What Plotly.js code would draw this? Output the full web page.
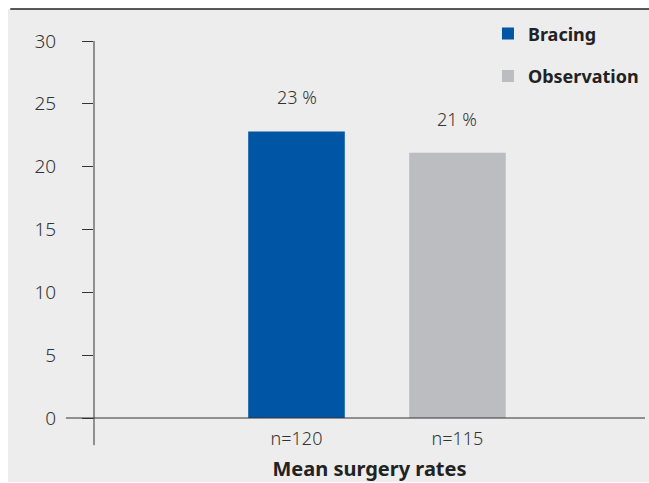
<!DOCTYPE html>
<html><head><meta charset="utf-8">
<script src="https://cdn.plot.ly/plotly-3.0.1.min.js"></script>
<style>html,body{margin:0;padding:0;background:#fff}#c{width:649px;height:483px}</style>
</head><body><div id="c"></div>
<script>
const seriesNames = ["Bracing", "Observation"];
const categories = ["n=120", "n=115"];
const values = [22.8, 21.1];
const valueLabels = ["23 %", "21 %"];
const colors = ["#0055a4", "#bcbdc1"];
const yTicks = [0, 5, 10, 15, 20, 25, 30];

const narrow = "'Noto Sans', 'DejaVu Sans', sans-serif";
const f = (size, color, weight) => ({family: narrow, size: size, color: color, weight: weight || 300, stretch: 'condensed'});

const traces = seriesNames.map((n, i) => ({
  type: 'bar', name: n, x: [categories[i]], y: [values[i]], legendgroup: 'g' + i,
  marker: {color: colors[i]}, width: 0.6, hoverinfo: 'skip'
}));

const annotations = values.map((v, i) => ({
  x: categories[i], y: v, xref: 'x', yref: 'y', text: valueLabels[i],
  showarrow: false, yanchor: 'middle', yshift: 34,
  font: f(18, '#333')
}));

const layout = {
  width: 649, height: 483,
  margin: {l: 94, r: 4, t: 41, b: 65, autoexpand: false},
  paper_bgcolor: '#fff', plot_bgcolor: 'rgba(0,0,0,0)',
  barmode: 'overlay',
  showlegend: true,
  legend: {x: 0.715, y: 1.068, xanchor: 'left', yanchor: 'top', bgcolor: 'rgba(0,0,0,0)',
    font: f(18, '#222', 'bold'), tracegroupgap: 16,
    traceorder: 'grouped', itemclick: false},
  xaxis: {type: 'category', range: [-1.258, 2.165], showline: false, ticks: '',
    tickfont: f(18, '#333'), showgrid: false, zeroline: false, ticklabelstandoff: 8,
    fixedrange: true, automargin: false,
    title: {text: 'Mean surgery rates', font: f(20, '#222', 'bold'), standoff: 12}},
  yaxis: {range: [0, 30], tickvals: yTicks, ticktext: yTicks.map(String), ticks: 'outside', ticklen: 11,
    tickcolor: '#333', tickwidth: 1, showline: false, showgrid: false, zeroline: false,
    ticklabelstandoff: 22, automargin: false,
    tickfont: f(19, '#333'), fixedrange: true},
  shapes: [
    {type: 'rect', xref: 'paper', yref: 'paper', x0: -0.156, x1: 1.01, y0: -0.17, y1: 1.085,
      fillcolor: '#ededed', line: {width: 0}, layer: 'below'},
    {type: 'line', xref: 'paper', yref: 'paper', x0: -0.152, x1: 1.01, y0: 1.085, y1: 1.085,
      line: {color: '#222', width: 1.5}},
    {type: 'line', xref: 'paper', yref: 'paper', x0: 0, x1: 0, y0: -0.072, y1: 1,
      line: {color: '#333', width: 1}},
    {type: 'line', xref: 'paper', yref: 'paper', x0: -0.051, x1: 1.0, y0: 0, y1: 0,
      line: {color: '#333', width: 1}}
  ],
  annotations: annotations
};
Plotly.newPlot('c', traces, layout, {displayModeBar: false, staticPlot: true});
</script></body></html>
